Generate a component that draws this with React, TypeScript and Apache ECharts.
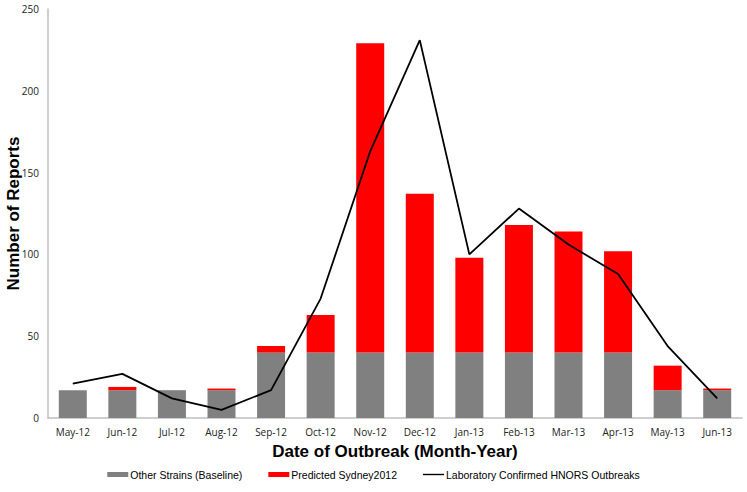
import React, { useEffect, useRef } from "react";
import * as echarts from "echarts";

const months = ["May-12", "Jun-12", "Jul-12", "Aug-12", "Sep-12", "Oct-12", "Nov-12", "Dec-12", "Jan-13", "Feb-13", "Mar-13", "Apr-13", "May-13", "Jun-13"];
const baseline = [17, 17, 17, 17, 40, 40, 40, 40, 40, 40, 40, 40, 17, 17];
const predicted = [0, 2, 0, 1, 4, 23, 189, 97, 58, 78, 74, 62, 15, 1];
const confirmed = [21, 27, 12, 5, 17, 73, 163, 231, 100, 128, 106, 88, 44, 12];
const yTicks = [0, 50, 100, 150, 200, 250];

export default function App() {
  const ref = useRef<HTMLDivElement>(null);
  useEffect(() => {
    if (!ref.current) return;
    const chart = echarts.init(ref.current, null, { renderer: "svg" });
    const labelFont = "'Open Sans', 'Liberation Sans', sans-serif";
    chart.setOption({
      animation: false,
      backgroundColor: "#ffffff",
      grid: { left: 48, right: 5, top: 9, bottom: 74, containLabel: false, outerBoundsMode: "none" },
      legend: {
        bottom: 7,
        left: "center",
        itemWidth: 21,
        itemHeight: 5,
        itemGap: 26,
        textStyle: { fontFamily: "'Liberation Sans', Arial, sans-serif", fontSize: 10.5, color: "#000", padding: [0, 0, 0, -3] },
        data: [
          { name: "Other Strains (Baseline)", icon: "rect" },
          { name: "Predicted Sydney2012", icon: "rect" },
          { name: "Laboratory Confirmed HNORS Outbreaks", icon: "path://M0,0 M0,5 M0,1.8 L21,1.8 L21,3.2 L0,3.2 Z", itemStyle: { color: "#000" } },
        ],
      },
      xAxis: {
        type: "category",
        data: months,
        boundaryGap: true,
        axisTick: { show: false },
        axisLine: { lineStyle: { color: "#bfbfbf", width: 1.5 } },
        axisLabel: { fontFamily: labelFont, fontSize: 10, color: "#222", margin: 9 },
        name: "Date of Outbreak (Month-Year)",
        nameLocation: "middle",
        nameGap: 25,
        nameTextStyle: { fontFamily: "'Liberation Sans', Arial, sans-serif", fontWeight: "bold", fontSize: 17, color: "#000" },
      },
      yAxis: {
        type: "value",
        min: yTicks[0],
        max: yTicks[yTicks.length - 1],
        interval: 50,
        splitLine: { show: false },
        axisTick: { show: false },
        axisLine: { show: true, lineStyle: { color: "#bfbfbf", width: 1.5 } },
        axisLabel: { fontFamily: labelFont, fontSize: 10, color: "#222", margin: 9 },
        name: "Number of Reports",
        nameLocation: "middle",
        nameGap: 26,
        nameMoveOverlap: false,
        nameTextStyle: { fontFamily: "'Liberation Sans', Arial, sans-serif", fontWeight: "bold", fontSize: 17, color: "#000" },
      },
      series: [
        {
          name: "Other Strains (Baseline)",
          type: "bar",
          stack: "total",
          barWidth: 28,
          data: baseline,
          itemStyle: { color: "#808080" },
        },
        {
          name: "Predicted Sydney2012",
          type: "bar",
          stack: "total",
          barWidth: 28,
          data: predicted,
          itemStyle: { color: "#ff0000" },
        },
        {
          name: "Laboratory Confirmed HNORS Outbreaks",
          type: "line",
          data: confirmed,
          symbol: "none",
          lineStyle: { color: "#000000", width: 1.8 },
          itemStyle: { color: "#000000" },
          z: 5,
        },
      ],
    });
    return () => chart.dispose();
  }, []);
  return <div ref={ref} style={{ position: "fixed", left: 0, top: 0, width: 747, height: 492 }} />;
}
